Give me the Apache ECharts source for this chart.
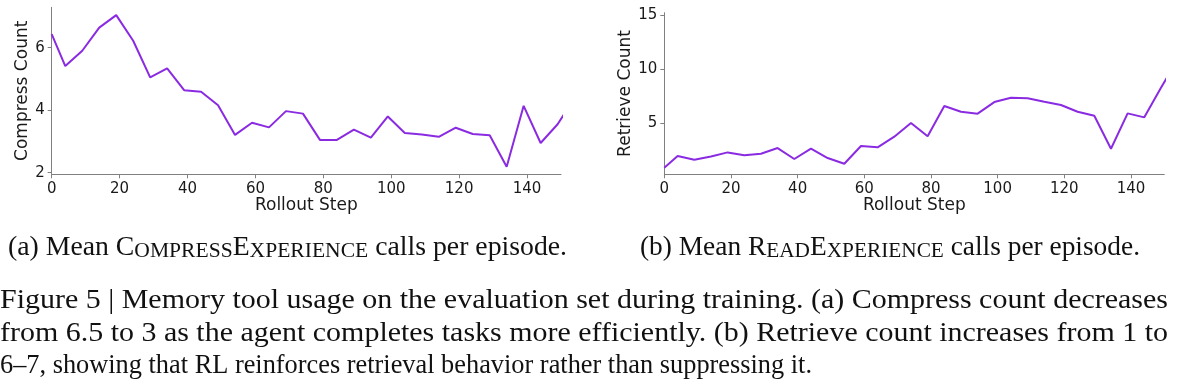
<!DOCTYPE html>
<html><head><meta charset="utf-8">
<script src="https://cdn.jsdelivr.net/npm/echarts@6/dist/echarts.min.js"></script>
<style>html,body{margin:0;padding:0;background:#fff}#c{width:1180px;height:386px}</style>
</head><body><div id="c"></div>
<script>
// ---- data ----
const steps = [0,4,9,14,19,24,29,34,39,44,49,54,59,64,69,74,79,84,89,94,99,104,109,114,119,124,129,134,139,144,149,154];
const compressCount = [6.43,5.41,5.90,6.64,7.04,6.22,5.05,5.34,4.64,4.59,4.16,3.21,3.60,3.45,3.97,3.89,3.05,3.05,3.38,3.12,3.80,3.27,3.22,3.15,3.44,3.24,3.20,2.19,4.14,2.95,3.55,4.40];
const retrieveCount = [0.90,1.98,1.64,1.95,2.32,2.05,2.20,2.72,1.71,2.66,1.80,1.27,2.91,2.79,3.77,5.03,3.80,6.60,6.07,5.89,6.96,7.36,7.31,6.99,6.69,6.07,5.70,2.66,5.92,5.55,8.28,10.9];
const xTicks = [0,20,40,60,80,100,120,140];
const compressTicks = [2,4,6];
const retrieveTicks = [5,10,15];
const xName = 'Rollout Step';
const yNames = ['Compress Count','Retrieve Count'];
const subCaptionA = [['n','(a) Mean '],['b','C'],['s','OMPRESS'],['b','E'],['s','XPERIENCE'],['n',' calls per episode.']];
const subCaptionB = [['n','(b) Mean '],['b','R'],['s','EAD'],['b','E'],['s','XPERIENCE'],['n',' calls per episode.']];
const captionLines = [
  'Figure 5 | Memory tool usage on the evaluation set during training. (a) Compress count decreases',
  'from 6.5 to 3 as the agent completes tasks more efficiently. (b) Retrieve count increases from 1 to',
  '6\u20137, showing that RL reinforces retrieval behavior rather than suppressing it.'
];

// ---- styling ----
const SERIF = 'Liberation Serif';
const CAP = 27, SMALL = 21;
const axisGray = '#808080';
const txt = '#1a1a1a';
const lineColor = '#8a2be2';

const ctx = document.createElement('canvas').getContext('2d');
function mw(t, size){ ctx.font = size + 'px "' + SERIF + '"'; return ctx.measureText(t).width; }
function richWidth(parts){ return parts.reduce((a,p)=>a+mw(p[1], p[0]==='s'?SMALL:CAP),0); }
function richStr(parts){ return parts.map(p=>'{'+p[0]+'|'+p[1]+'}').join(''); }
const richDef = {
  n:{fontSize:CAP,fontFamily:SERIF,fill:'#111',lineHeight:CAP,verticalAlign:'bottom'},
  b:{fontSize:CAP,fontFamily:SERIF,fill:'#111',lineHeight:CAP,verticalAlign:'bottom'},
  s:{fontSize:SMALL,fontFamily:SERIF,fill:'#111',lineHeight:SMALL,verticalAlign:'bottom'}
};

function xAxis(gi){
  return {
    type:'value', gridIndex:gi, min:0, max:150,
    splitLine:{show:false},
    axisLine:{show:true, onZero:false, lineStyle:{color:axisGray,width:1}},
    axisTick:{show:true, length:4, inside:false, customValues:xTicks, lineStyle:{color:axisGray,width:1}},
    axisLabel:{customValues:xTicks, margin:7, fontSize:15, color:txt, fontFamily:'DejaVu Sans'},
    name:xName, nameLocation:'middle', nameGap:22,
    nameTextStyle:{fontSize:17, color:txt, fontFamily:'DejaVu Sans'}
  };
}
function yAxis(gi, mn, mx, ticks, name, gap){
  return {
    type:'value', gridIndex:gi, min:mn, max:mx,
    splitLine:{show:false},
    axisLine:{show:true, onZero:false, lineStyle:{color:axisGray,width:1}},
    axisTick:{show:true, length:4, inside:false, customValues:ticks, lineStyle:{color:axisGray,width:1}},
    axisLabel:{customValues:ticks, margin:7, fontSize:15, color:txt, fontFamily:'DejaVu Sans'},
    name:name, nameLocation:'middle', nameGap:gap, nameRotate:90,
    nameTextStyle:{fontSize:17, color:txt, fontFamily:'DejaVu Sans'}
  };
}

const graphics = [];
graphics.push({type:'text', x:8, y:248, scaleX:559/richWidth(subCaptionA),
  style:{text:richStr(subCaptionA), rich:richDef, verticalAlign:'middle', align:'left'}});
graphics.push({type:'text', x:640, y:248, scaleX:500/richWidth(subCaptionB),
  style:{text:richStr(subCaptionB), rich:richDef, verticalAlign:'middle', align:'left'}});
const lineY = [301, 334, 366];
const s3 = 812/mw(captionLines[2],CAP);
const lineScale = [1168/mw(captionLines[0],CAP), 1168/mw(captionLines[1],CAP), s3];
captionLines.forEach((t,i)=>{
  graphics.push({type:'text', x:0, y:lineY[i], scaleX:lineScale[i],
    style:{text:t, font:CAP+'px "'+SERIF+'"', fill:'#111', verticalAlign:'middle', align:'left'}});
});

const chart = echarts.init(document.getElementById('c'), null, {renderer:'canvas'});
chart.setOption({
  animation:false,
  backgroundColor:'#fff',
  grid:[
    {left:51.7, top:7.3, width:509.3, height:167},
    {left:664.3, top:12.7, width:500, height:161.6}
  ],
  xAxis:[xAxis(0), xAxis(1)],
  yAxis:[
    yAxis(0, 1.95, 7.29, compressTicks, yNames[0], 18),
    yAxis(1, 0.3, 15.2, retrieveTicks, yNames[1], 29)
  ],
  series:[
    {type:'line', xAxisIndex:0, yAxisIndex:0, data:steps.map((s,i)=>[s,compressCount[i]]),
     showSymbol:false, clip:true, lineStyle:{color:lineColor,width:2}, itemStyle:{color:lineColor}},
    {type:'line', xAxisIndex:1, yAxisIndex:1, data:steps.map((s,i)=>[s,retrieveCount[i]]),
     showSymbol:false, clip:true, lineStyle:{color:lineColor,width:2}, itemStyle:{color:lineColor}}
  ],
  graphic:graphics
});
</script></body></html>
